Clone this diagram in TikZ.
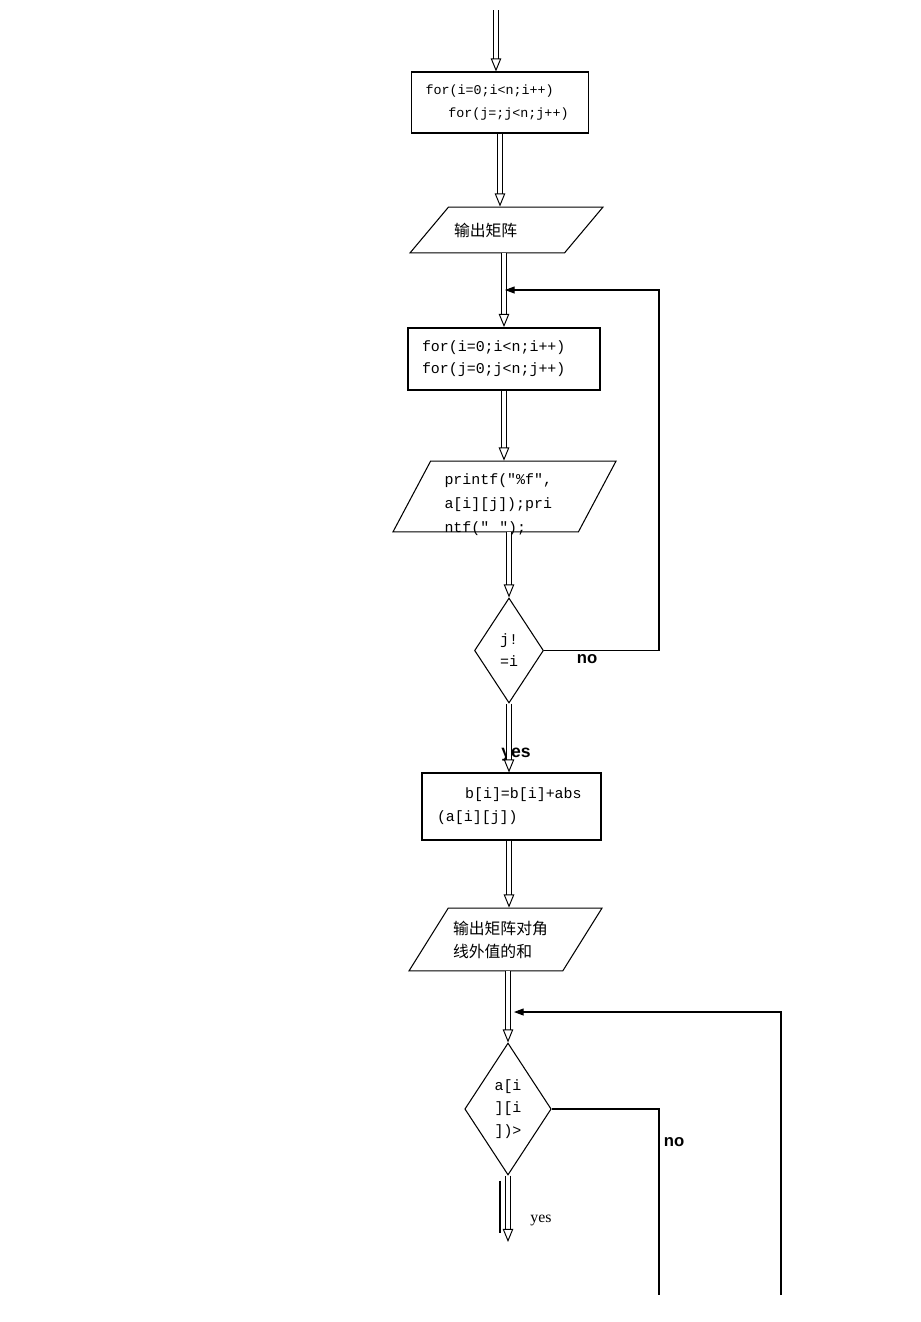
\documentclass[tikz,border=0pt]{standalone}
\usepackage{fontspec}
\setmainfont{Liberation Serif}
\setsansfont{Liberation Sans}
\setmonofont{Liberation Mono}
\newfontfamily\cjk{Noto Sans CJK SC}
\usetikzlibrary{shapes.geometric,arrows.meta}

\tikzset{
	box/.style={draw, line width=0.6pt, rectangle, align=left, inner sep=0pt, inner xsep=0.28cm},
	para/.style={draw, line width=0.6pt, trapezium, trapezium stretches body, inner sep=0pt, align=left},
	cond/.style={draw, line width=0.6pt, diamond, inner sep=0pt, align=center},
	flow/.style={double, double distance=2.3pt, line width=0.55pt, -{Triangle[open, length=7.5pt, width=6pt]}},
	back/.style={line width=0.6pt, -{Triangle[length=5.5pt,width=4pt]}},
	lbl/.style={font=\sffamily\bfseries\fontsize{9.5}{11}\selectfont, inner sep=0pt}
}
\newcommand{\codesize}[1]{\ttfamily\fontsize{#1}{13.6}\selectfont}

\begin{document}
\begin{tikzpicture}[x=0.02cm, y=-0.02cm]
	\useasboundingbox (0,0) rectangle (920,1322);
	\coordinate (top) at (496,10);
	\node[box, text width=2.98cm, minimum height=1.22cm, font=\codesize{7.6}] (loop1) at (500,102.5) {for(i=0;i<n;i++)\\\hspace*{13pt}for(j=;j<n;j++)};
	\node[para, trapezium left angle=50, trapezium right angle=130, minimum width=3.86cm, text height=16.5pt, text depth=9.6pt, text width=2.1cm, font=\cjk\fontsize{9}{13}\selectfont] (out1) at (506.5,230) {输出矩阵};
	\node[box, line width=1.1pt, text width=3.28cm, minimum height=1.24cm, font=\ttfamily\fontsize{8.5}{12.5}\selectfont] (loop2) at (504,359) {for(i=0;i<n;i++)\\for(j=0;j<n;j++)};
	\node[para, trapezium left angle=62, trapezium right angle=118, minimum width=4.46cm, text height=13.3pt, text depth=26.9pt, text width=2.4cm, font=\codesize{8.5}] (out2) at (504.5,496.5) {printf(″\%f″,\\a[i][j]);pri\\ntf(″\ \ ″);};
	\node[cond, minimum width=1.38cm, minimum height=2.1cm, font=\ttfamily\fontsize{8.5}{12.5}\selectfont] (chk1) at (509,650.5) {j!\\=i};
	\node[box, text width=2.98cm, inner xsep=0.3cm, minimum height=1.34cm, font=\ttfamily\fontsize{8.5}{13}\selectfont] (sum) at (511.5,806.5) {\hspace*{16pt}b[i]=b[i]+abs\\(a[i][j])};
	\node[para, trapezium left angle=58, trapezium right angle=122, minimum width=3.86cm, text height=15.15pt, text depth=20.55pt, text width=2.1cm, font=\cjk\fontsize{9}{13}\selectfont] (out3) at (505.5,939.5) {输出矩阵对角\\线外值的和};
	\node[cond, minimum width=1.64cm, minimum height=2.64cm, font=\ttfamily\fontsize{8.5}{13}\selectfont] (chk2) at (508,1109) {a[i\\][i\\])>};
	\coordinate (j1) at (505,290);
	\coordinate (bend1) at (659,290);
	\coordinate (j2) at (514,1012);
	\coordinate (bend2) at (781,1012);
	\coordinate (end1) at (659,1295);
	\coordinate (end2) at (781,1295);
	\coordinate (exit) at (508,1242);
	\node[lbl] (no1) at (587,659) {no};
	\node[lbl, font=\sffamily\bfseries\fontsize{10}{12}\selectfont] (yes1) at (516,755) {yes};
	\node[lbl] (no2) at (674,1142) {no};
	\node[font=\rmfamily\fontsize{9}{11}\selectfont, inner sep=0pt] (yes2) at (541,1220) {yes};

	\draw[flow] (top) -- (top |- loop1.north);
	\draw[flow] (loop1.south) -- (loop1.south |- out1.north);
	\draw[flow] (out1.south -| loop2.north) -- (loop2.north);
	\draw[flow] (loop2.south) -- (loop2.south |- out2.north);
	\draw[flow] (out2.south -| chk1.north) -- (chk1.north);
	\draw[flow] (chk1.south) -- (chk1.south |- sum.north);
	\draw[flow] (sum.south -| chk1.south) -- (out3.north -| chk1.south);
	\draw[flow] (out3.south -| chk2.north) -- (chk2.north);
	\draw[flow] (chk2.south) -- (exit);
	\draw[line width=0.6pt] (chk2.south) ++(-8,5) -- ++(0,52);
	\draw[back] (chk1.east) -| (bend1) -- (j1);
	\draw[line width=0.6pt] (chk2.east) -| (end1);
	\draw[back] (end2) -- (bend2) -- (j2);
\end{tikzpicture}
\end{document}
